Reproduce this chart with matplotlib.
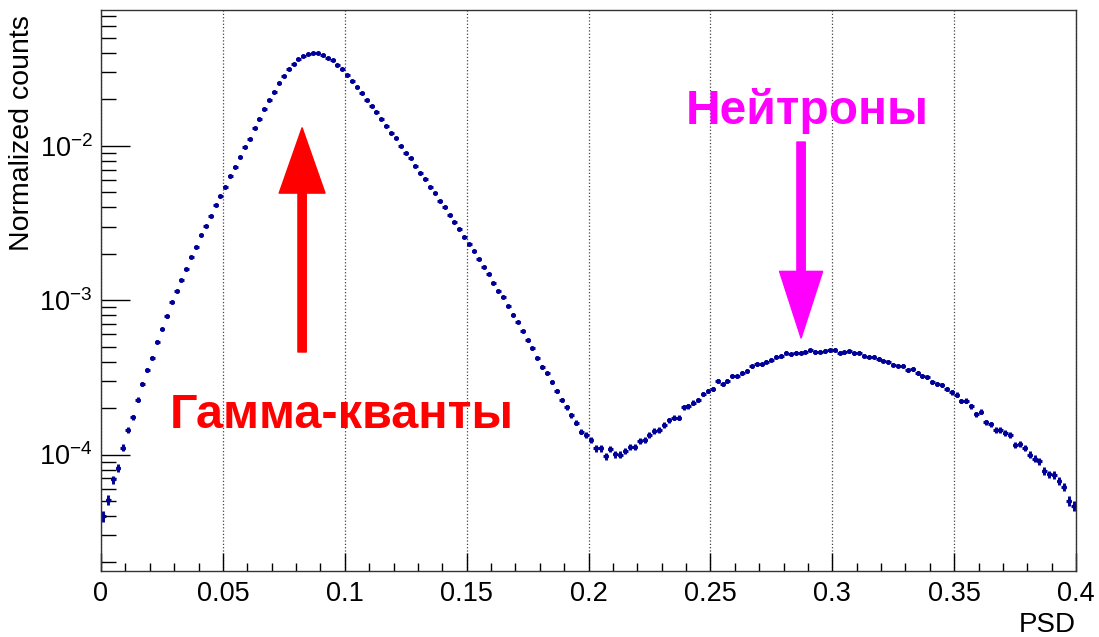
import numpy as np
import matplotlib
matplotlib.use("Agg")
import matplotlib.pyplot as plt
from matplotlib.ticker import MultipleLocator, LogLocator, NullFormatter, FuncFormatter

plt.rcParams['font.family'] = ['Liberation Sans', 'DejaVu Sans']
plt.rcParams['mathtext.default'] = 'regular'

# histogram: 200 bins of PSD in [0, 0.4]
psd_lo = 0.0
psd_hi = 0.4
n_bins = 200

counts = [
    4.0e-5, 5.1e-5, 6.9e-5, 8.2e-5, 1.11e-4, 1.45e-4, 1.75e-4, 2.27e-4, 2.85e-4, 3.53e-4,
    4.25e-4, 5.37e-4, 6.52e-4, 7.87e-4, 9.7e-4, 1.14e-3, 1.36e-3, 1.59e-3, 1.91e-3, 2.22e-3,
    2.64e-3, 3.04e-3, 3.50e-3, 4.17e-3, 4.77e-3, 5.45e-3, 6.35e-3, 7.35e-3, 8.48e-3, 9.86e-3,
    1.115e-2, 1.308e-2, 1.497e-2, 1.738e-2, 1.986e-2, 2.249e-2, 2.547e-2, 2.855e-2, 3.141e-2, 3.417e-2,
    3.648e-2, 3.831e-2, 3.963e-2, 4.025e-2, 3.988e-2, 3.873e-2, 3.735e-2, 3.593e-2, 3.35e-2, 3.14e-2,
    2.89e-2, 2.65e-2, 2.42e-2, 2.19e-2, 1.99e-2, 1.825e-2, 1.652e-2, 1.496e-2, 1.354e-2, 1.214e-2,
    1.127e-2, 9.95e-3, 9.05e-3, 8.32e-3, 7.42e-3, 6.71e-3, 6.08e-3, 5.45e-3, 4.98e-3, 4.42e-3,
    4.01e-3, 3.59e-3, 3.22e-3, 2.90e-3, 2.57e-3, 2.32e-3, 2.08e-3, 1.844e-3, 1.652e-3, 1.474e-3,
    1.288e-3, 1.153e-3, 1.054e-3, 9.16e-4, 8.07e-4, 7.24e-4, 6.33e-4, 5.51e-4, 4.89e-4, 4.25e-4,
    3.69e-4, 3.36e-4, 2.94e-4, 2.59e-4, 2.25e-4, 2.03e-4, 1.80e-4, 1.61e-4, 1.41e-4, 1.34e-4,
    1.236e-4, 1.096e-4, 1.096e-4, 9.78e-5, 1.086e-4, 1.003e-4, 1.0e-4, 1.058e-4, 1.124e-4, 1.124e-4,
    1.225e-4, 1.249e-4, 1.337e-4, 1.419e-4, 1.442e-4, 1.56e-4, 1.666e-4, 1.733e-4, 1.733e-4, 2.03e-4,
    2.05e-4, 2.17e-4, 2.25e-4, 2.46e-4, 2.59e-4, 2.66e-4, 2.98e-4, 2.86e-4, 3.01e-4, 3.23e-4,
    3.21e-4, 3.38e-4, 3.49e-4, 3.73e-4, 3.86e-4, 3.85e-4, 4.0e-4, 4.12e-4, 4.31e-4, 4.35e-4,
    4.57e-4, 4.46e-4, 4.57e-4, 4.57e-4, 4.64e-4, 4.73e-4, 4.62e-4, 4.64e-4, 4.69e-4, 4.73e-4,
    4.78e-4, 4.57e-4, 4.6e-4, 4.66e-4, 4.53e-4, 4.57e-4, 4.37e-4, 4.31e-4, 4.31e-4, 4.16e-4,
    4.06e-4, 4.0e-4, 3.82e-4, 3.77e-4, 3.77e-4, 3.53e-4, 3.58e-4, 3.38e-4, 3.24e-4, 3.16e-4,
    2.94e-4, 2.85e-4, 2.84e-4, 2.66e-4, 2.53e-4, 2.45e-4, 2.23e-4, 2.24e-4, 2.06e-4, 1.82e-4,
    1.90e-4, 1.62e-4, 1.57e-4, 1.44e-4, 1.44e-4, 1.38e-4, 1.34e-4, 1.158e-4, 1.17e-4, 1.10e-4,
    1.0e-4, 9.39e-5, 9.03e-5, 7.86e-5, 7.44e-5, 7.36e-5, 6.76e-5, 6.18e-5, 5.0e-5, 4.64e-5,
]
n_events = 4.0e6  # rough total used for the statistical error bars

gamma_label = "Гамма-кванты"
neutron_label = "Нейтроны"

counts = np.array(counts)
edges = np.linspace(psd_lo, psd_hi, n_bins + 1)
centers = 0.5 * (edges[:-1] + edges[1:])
half_w = 0.5 * (edges[1] - edges[0])
errs = np.sqrt(counts / n_events)

fig = plt.figure(figsize=(10.99, 6.37), dpi=100)
ax = fig.add_axes([0.0919, 0.1036, 0.8872, 0.8807])

ax.errorbar(centers, counts, xerr=half_w, yerr=errs, fmt='o', ms=2.6,
            color='#000099', elinewidth=2.1, capsize=0)

ax.set_yscale('log')
ax.set_xlim(psd_lo, psd_hi)
ax.set_ylim(1.76e-5, 0.076)

ax.xaxis.set_major_locator(MultipleLocator(0.05))
ax.xaxis.set_minor_locator(MultipleLocator(0.01))
ax.xaxis.set_major_formatter(FuncFormatter(lambda v, p: '%g' % round(v, 3)))
ax.yaxis.set_major_locator(LogLocator(base=10))
ax.yaxis.set_minor_locator(LogLocator(base=10, subs=np.arange(2, 10)))
ax.yaxis.set_minor_formatter(NullFormatter())

ax.tick_params(axis='x', which='major', direction='in', length=13, width=1, labelsize=19.5, pad=7, top=False)
ax.tick_params(axis='x', which='minor', direction='in', length=6, width=1, top=False)
ax.tick_params(axis='y', which='major', direction='in', length=21, width=1, labelsize=19.5, pad=6, right=False)
ax.tick_params(axis='y', which='minor', direction='in', length=11, width=1, right=False)
ax.grid(axis='x', which='major', linestyle=':', color='#444444', linewidth=0.9)
for s in ax.spines.values():
    s.set_linewidth(1.0)
    s.set_color('#333333')

fig.text(0.020, 0.9765, 'Normalized counts', rotation=90, ha='center', va='top', fontsize=20.5)
fig.text(0.979, 0.008, 'PSD', ha='right', va='baseline', fontsize=20)

# arrows
ax.annotate('', xy=(0.0825, 0.0131), xytext=(0.0825, 4.62e-4),
            arrowprops=dict(arrowstyle='simple,head_length=4.7,head_width=3.3,tail_width=0.6',
                            mutation_scale=10, color='#ff0000', shrinkA=0, shrinkB=0))
ax.annotate('', xy=(0.2872, 5.69e-4), xytext=(0.2872, 0.0106),
            arrowprops=dict(arrowstyle='simple,head_length=4.8,head_width=3.1,tail_width=0.6',
                            mutation_scale=10, color='#ff00ff', shrinkA=0, shrinkB=0))

ax.text(0.0283, 1.49e-4, gamma_label, color='#ff0000', fontsize=35, fontweight='bold', va='baseline')
ax.text(0.240, 0.0139, neutron_label, color='#ff00ff', fontsize=34.5, fontweight='bold', va='baseline')

fig.savefig('out.png', dpi=100)
